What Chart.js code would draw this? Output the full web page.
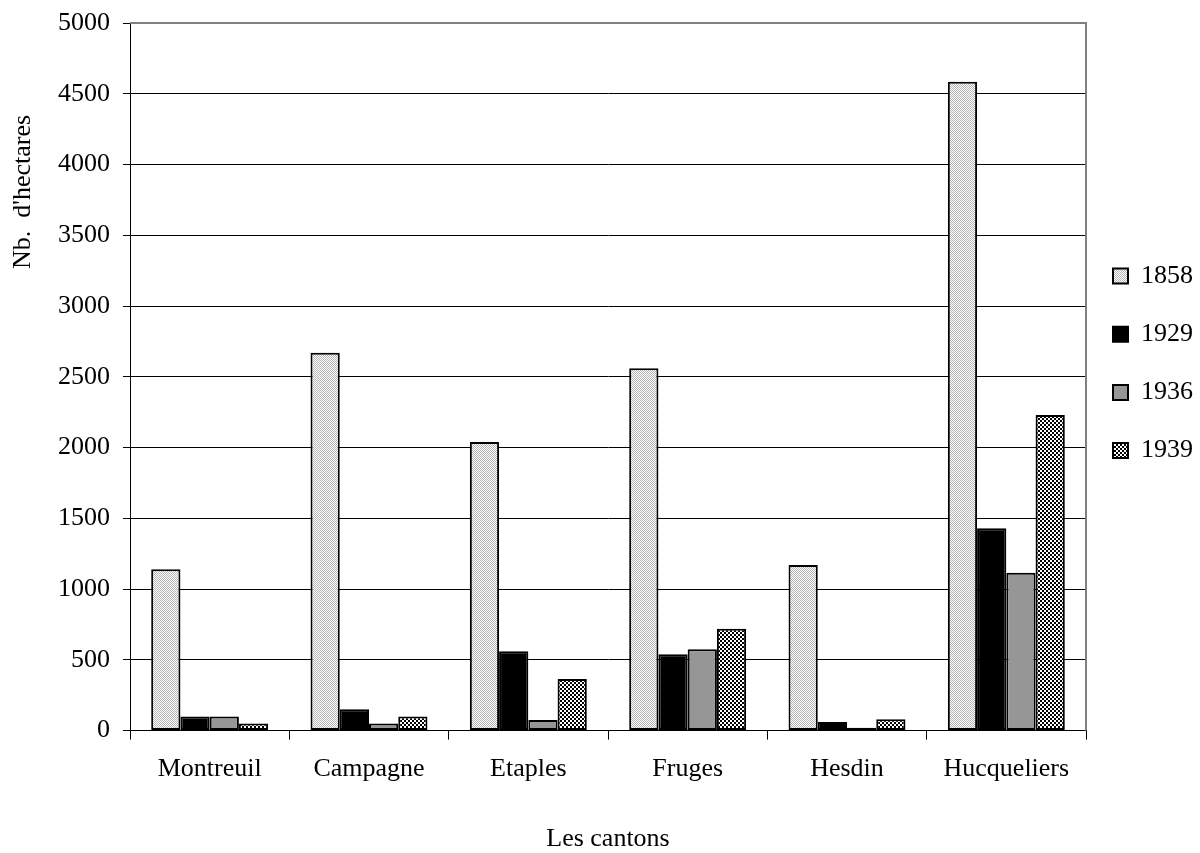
<!DOCTYPE html>
<html>
<head>
<meta charset="utf-8">
<script src="https://cdn.jsdelivr.net/npm/chart.js@4/dist/chart.umd.min.js"></script>
<style>
  html, body { margin: 0; padding: 0; background: #fff; }
  #wrap { width: 1200px; height: 853px; position: relative; }
</style>
</head>
<body>
<div id="wrap"><canvas id="c" width="1200" height="853"></canvas></div>
<script>
const categories = ["Montreuil", "Campagne", "Etaples", "Fruges", "Hesdin", "Hucqueliers"];
const seriesNames = ["1858", "1929", "1936", "1939"];
const values1858 = [1140, 2670, 2040, 2560, 1170, 4585];
const values1929 = [100, 150, 560, 540, 60, 1430];
const values1936 = [100, 50, 75, 575, 20, 1115];
const values1939 = [50, 100, 365, 720, 80, 2230];
const yTicks = [0, 500, 1000, 1500, 2000, 2500, 3000, 3500, 4000, 4500, 5000];

function makePattern(size, cells, bg) {
  const pc = document.createElement('canvas');
  pc.width = size; pc.height = size;
  const p = pc.getContext('2d');
  p.fillStyle = bg; p.fillRect(0, 0, size, size);
  cells.forEach(([x, y, w, h, col]) => { p.fillStyle = col; p.fillRect(x, y, w, h); });
  return p.createPattern(pc, 'repeat');
}
const ctx = document.getElementById('c').getContext('2d');
const pat1858 = makePattern(2, [[0,0,1,1,'#b4b4b4'],[1,1,1,1,'#b4b4b4']], '#ffffff');
const pat1939 = makePattern(4, [[0,0,2,2,'#000'],[2,2,2,2,'#000']], '#ffffff');

const fills = [pat1858, '#000000', '#969696', pat1939];
const allValues = [values1858, values1929, values1936, values1939];
const FONT = 'Liberation Serif';

const yTitlePlugin = {
  id: 'yTitle',
  afterDraw(chart) {
    const c = chart.ctx;
    c.save();
    c.font = '26px "' + FONT + '"';
    c.fillStyle = '#000';
    c.textAlign = 'center';
    c.textBaseline = 'middle';
    c.translate(23, 192);
    c.rotate(-Math.PI / 2);
    c.fillText("Nb.  d'hectares", 0, 0);
    c.restore();
  }
};

const framePlugin = {
  id: 'frame',
  beforeDatasetsDraw(chart) {
    const a = chart.chartArea, c = chart.ctx;
    c.save();
    c.strokeStyle = '#808080';
    c.lineWidth = 2;
    c.beginPath();
    c.moveTo(a.left, a.top);
    c.lineTo(a.right, a.top);
    c.lineTo(a.right, a.bottom);
    c.stroke();
    c.restore();
  }
};

const defaultLabels = Chart.defaults.plugins.legend.labels.generateLabels;

new Chart(ctx, {
  type: 'bar',
  data: {
    labels: categories,
    datasets: seriesNames.map((n, i) => ({
      label: n,
      data: allValues[i],
      backgroundColor: fills[i],
      borderColor: '#000',
      borderWidth: 2,
      borderSkipped: false,
      barPercentage: 1.0,
      categoryPercentage: 0.734
    }))
  },
  options: {
    responsive: false,
    animation: false,
    layout: { padding: { left: 45, top: 0, right: 0, bottom: -2 } },
    plugins: {
      legend: {
        position: 'right',
        align: 'start',
        maxWidth: 114,
        title: { display: true, text: ' ', font: { size: 10 }, padding: { top: 224, bottom: 0 } },
        labels: {
          boxWidth: 15, boxHeight: 15, padding: 27,
          color: '#000',
          font: { family: FONT, size: 26, lineHeight: 1.2 },
          generateLabels(chart) {
            return defaultLabels(chart).map(item => Object.assign(item, { text: [item.text] }));
          }
        }
      },
      tooltip: { enabled: false }
    },
    scales: {
      x: {
        grid: { offset: true, drawOnChartArea: false, drawTicks: true, tickLength: 9, color: '#000', lineWidth: 1 },
        border: { color: '#000', width: 1 },
        ticks: { color: '#000', padding: 14, font: { family: FONT, size: 26 } },
        title: { display: true, text: 'Les cantons', color: '#000', padding: { top: 25, bottom: 0 }, font: { family: FONT, size: 26 } }
      },
      y: {
        min: 0, max: 5000,
        afterBuildTicks(axis) { axis.ticks = yTicks.map(v => ({ value: v })); },
        afterFit(axis) { axis.paddingTop = 23; },
        grid: { color: '#000', lineWidth: 1, tickLength: 7, drawTicks: true },
        border: { color: '#000', width: 1 },
        ticks: { color: '#000', padding: 13, font: { family: FONT, size: 26 }, callback: v => String(v) }
      }
    }
  },
  plugins: [framePlugin, yTitlePlugin]
});
</script>
</body>
</html>
